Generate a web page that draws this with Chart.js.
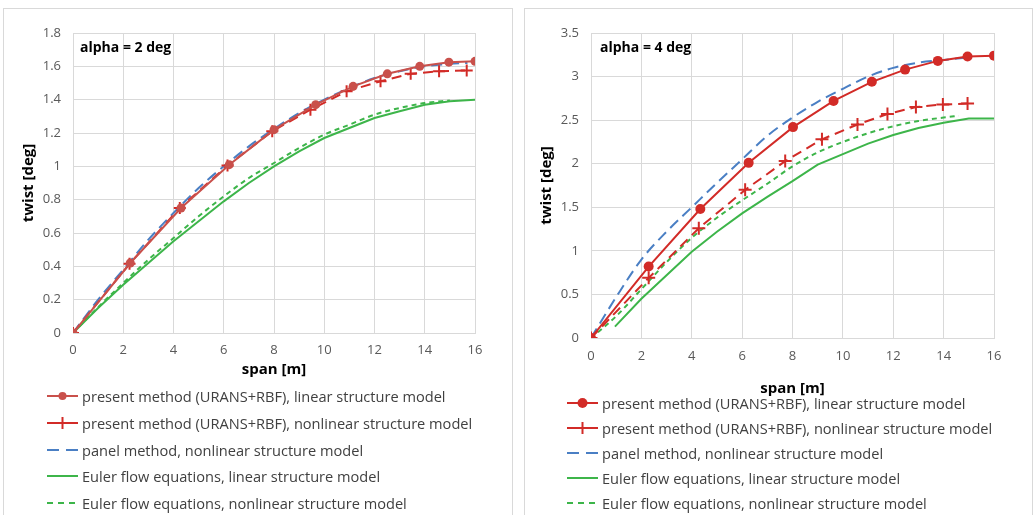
<!DOCTYPE html>
<html>
<head>
<meta charset="utf-8">
<script src="https://cdn.jsdelivr.net/npm/chart.js@4.4.0/dist/chart.umd.min.js"></script>
<style>
  body { margin: 0; background: #fff; font-family: "Open Sans", sans-serif; }
  .panel { position: absolute; top: 8px; height: 520px; border: 1px solid #d9d9d9; background: #fff; }
  #p1 { left: 3px; width: 508px; }
  #p2 { left: 524px; width: 507px; }
  .panel canvas { display: block; }
  .legend { position: absolute; font-size: 14.6px; color: #404040; }
  .row { display: flex; align-items: center; white-space: nowrap; }
  .row svg { margin-right: 4px; flex: none; }
</style>
</head>
<body>
<div class="panel" id="p1">
  <div style="width:508px;height:380px"><canvas id="c1"></canvas></div>
  <div class="legend" id="lg1" style="left:43px;top:374px"></div>
</div>
<div class="panel" id="p2">
  <div style="width:507px;height:392px"><canvas id="c2"></canvas></div>
  <div class="legend" id="lg2" style="left:42px;top:381px"></div>
</div>
<script>
// ---- data: alpha = 2 deg ----
const L_linX = [0, 2.28, 4.3, 6.22, 8.0, 9.66, 11.15, 12.51, 13.8, 14.96, 16];
const L_linY = [0, 0.42, 0.75, 1.01, 1.22, 1.37, 1.48, 1.555, 1.6, 1.625, 1.63];
const L_nlX = [0, 2.25, 4.25, 6.15, 7.93, 9.45, 10.89, 12.24, 13.44, 14.57, 15.67];
const L_nlY = [0, 0.415, 0.75, 1.005, 1.21, 1.34, 1.45, 1.51, 1.556, 1.57, 1.575];
const L_panX = [0, 1, 2, 3, 4, 5, 6, 7, 8, 9, 10, 11, 12, 13, 14, 15, 15.7];
const L_panY = [0, 0.2, 0.38, 0.56, 0.72, 0.87, 1.0, 1.12, 1.225, 1.32, 1.4, 1.47, 1.53, 1.57, 1.6, 1.615, 1.62];
const L_eulX = [0, 1, 2, 3, 4, 5, 6, 7, 8, 9, 10, 11, 12, 13, 14, 15, 16];
const L_eulY = [0, 0.15, 0.29, 0.42, 0.55, 0.67, 0.79, 0.9, 1.0, 1.09, 1.17, 1.23, 1.29, 1.33, 1.37, 1.39, 1.4];
const L_eunX = [0, 1, 2, 3, 4, 5, 6, 7, 8, 9, 10, 11, 12, 13, 14, 15];
const L_eunY = [0, 0.155, 0.3, 0.44, 0.57, 0.7, 0.82, 0.93, 1.02, 1.11, 1.19, 1.25, 1.31, 1.35, 1.38, 1.395];

// ---- data: alpha = 4 deg ----
const R_linX = [0, 2.29, 4.34, 6.26, 8.02, 9.63, 11.15, 12.47, 13.77, 14.95, 16];
const R_linY = [0, 0.82, 1.48, 2.01, 2.42, 2.72, 2.94, 3.08, 3.18, 3.23, 3.24];
const R_nlX = [0, 2.29, 4.28, 6.12, 7.71, 9.17, 10.58, 11.77, 12.9, 13.97, 14.95];
const R_nlY = [0, 0.69, 1.26, 1.70, 2.03, 2.28, 2.45, 2.57, 2.65, 2.68, 2.69];
const R_panX = [0, 1, 2, 3, 4, 5, 6, 7, 8, 9, 10, 11, 12, 13, 14, 15];
const R_panY = [0, 0.47, 0.9, 1.22, 1.5, 1.78, 2.05, 2.32, 2.53, 2.71, 2.86, 3.0, 3.1, 3.16, 3.19, 3.22];
const R_eulX = [0.95, 2, 3, 4, 5, 6, 7, 8, 9, 10, 11, 12, 13, 14, 15, 16];
const R_eulY = [0.13, 0.45, 0.72, 0.99, 1.22, 1.43, 1.62, 1.8, 1.99, 2.11, 2.23, 2.33, 2.41, 2.47, 2.52, 2.52];
const R_eunX = [0, 1, 2, 3, 4, 5, 6, 7, 8, 9, 10, 11, 12, 13, 14, 14.6];
const R_eunY = [0, 0.25, 0.56, 0.87, 1.15, 1.38, 1.58, 1.77, 1.97, 2.13, 2.25, 2.35, 2.43, 2.49, 2.53, 2.55];

const seriesNames = [
  'present method (URANS+RBF), linear structure model',
  'present method (URANS+RBF), nonlinear structure model',
  'panel method, nonlinear structure model',
  'Euler flow equations, linear structure model',
  'Euler flow equations, nonlinear structure model'
];

const RED_L = '#c9504b', RED = '#d22b27', BLUE = '#4a7fc4', GREEN = '#3db54a';

Chart.defaults.font.family = '"Open Sans", sans-serif';
Chart.defaults.animation = false;

function pts(xs, ys) { return xs.map((x, i) => ({ x: x, y: ys[i] })); }

// bold label in the top-left of the plot
const alphaLabel = {
  id: 'alphaLabel',
  afterDraw(chart, args, opts) {
    const { ctx, chartArea } = chart;
    ctx.save();
    ctx.font = 'bold 14px "Open Sans"';
    ctx.fillStyle = '#000';
    ctx.textBaseline = 'middle';
    ctx.fillText(opts.text, chartArea.left + opts.dx, chartArea.top + opts.dy);
    ctx.restore();
  }
};

function makeChart(id, d, o) {
  const datasets = [
    { data: pts(d.linX, d.linY), borderColor: o.red1, backgroundColor: o.red1, borderWidth: 2,
      pointStyle: 'circle', pointRadius: o.circR, pointBorderWidth: 0 },
    { data: pts(d.nlX, d.nlY), borderColor: o.red2, backgroundColor: o.red2, borderWidth: 2,
      borderDash: [10, 6], pointStyle: 'cross', pointRadius: o.crossR, pointBorderWidth: 2 },
    { data: pts(d.panX, d.panY), borderColor: BLUE, borderWidth: 2, borderDash: [11, 6], pointRadius: 0,
      cubicInterpolationMode: 'monotone' },
    { data: pts(d.eulX, d.eulY), borderColor: GREEN, borderWidth: 2, pointRadius: 0 },
    { data: pts(d.eunX, d.eunY), borderColor: GREEN, borderWidth: 2, borderDash: [5, 4], pointRadius: 0,
      cubicInterpolationMode: 'monotone' }
  ];
  datasets.forEach(ds => { ds.showLine = true; ds.fill = false; });
  return new Chart(document.getElementById(id), {
    type: 'scatter',
    data: { datasets: datasets },
    plugins: [alphaLabel],
    options: {
      responsive: true,
      maintainAspectRatio: false,
      layout: { padding: { left: 0, top: o.top, right: o.right, bottom: 0 } },
      plugins: {
        legend: { display: false },
        tooltip: { enabled: false },
        alphaLabel: { text: o.label, dx: o.lx, dy: 15 }
      },
      scales: {
        x: {
          type: 'linear', min: 0, max: 16,
          ticks: { stepSize: 2, color: '#595959', font: { size: 13 }, padding: o.xtp, maxRotation: 0 },
          grid: { color: '#d9d9d9', drawTicks: false },
          border: { color: '#d9d9d9' },
          title: { display: true, text: 'span [m]', color: '#000', font: { size: 15, weight: 'bold' },
                   padding: { top: 0, bottom: o.xtb } },
          afterFit: s => { s.height = o.xh; }
        },
        y: {
          min: 0, max: o.ymax,
          ticks: { stepSize: o.ystep, color: '#595959', font: { size: 13 }, padding: 12,
                   callback: v => String(+v.toFixed(2)) },
          grid: { color: '#d9d9d9', drawTicks: false },
          border: { color: '#d9d9d9' },
          title: { display: true, text: 'twist [deg]', color: '#000', font: { size: 15, weight: 'bold' },
                   padding: { top: o.ytp, bottom: 0 } },
          afterFit: s => { s.width = o.yw; }
        }
      }
    }
  });
}

makeChart('c1',
  { linX: L_linX, linY: L_linY, nlX: L_nlX, nlY: L_nlY, panX: L_panX, panY: L_panY,
    eulX: L_eulX, eulY: L_eulY, eunX: L_eunX, eunY: L_eunY },
  { red1: RED_L, red2: RED, circR: 4.5, crossR: 6, label: 'alpha = 2 deg', lx: 7,
    top: 24, right: 37, yw: 69, xh: 56, xtp: 9, xtb: 10, ytp: 16, ymax: 1.8, ystep: 0.2 });

makeChart('c2',
  { linX: R_linX, linY: R_linY, nlX: R_nlX, nlY: R_nlY, panX: R_panX, panY: R_panY,
    eulX: R_eulX, eulY: R_eulY, eunX: R_eunX, eunY: R_eunY },
  { red1: RED, red2: RED, circR: 5, crossR: 6.5, label: 'alpha = 4 deg', lx: 9,
    top: 24, right: 38, yw: 66, xh: 63, xtp: 10, xtb: 3, ytp: 13, ymax: 3.5, ystep: 0.5 });

// legend samples (line + marker), html rows
function sample(kind, color, r) {
  let s = '<svg width="31" height="14">';
  if (kind === 'dash2') {
    s += `<line x1="0" y1="7" x2="12" y2="7" stroke="${color}" stroke-width="2"/>` +
         `<line x1="19" y1="7" x2="31" y2="7" stroke="${color}" stroke-width="2"/>`;
  } else if (kind === 'dash3') {
    s += `<line x1="0" y1="7" x2="31" y2="7" stroke="${color}" stroke-width="2" stroke-dasharray="6,5"/>`;
  } else {
    s += `<line x1="0" y1="7" x2="31" y2="7" stroke="${color}" stroke-width="2"/>`;
  }
  if (kind === 'circle') s += `<circle cx="15.5" cy="7" r="${r}" fill="${color}"/>`;
  if (kind === 'cross') s += `<line x1="15.5" y1="1" x2="15.5" y2="13" stroke="${color}" stroke-width="2"/>`;
  return s + '</svg>';
}

function renderLegend(container, red1, red2, circR, rowH) {
  const kinds = [['circle', red1], ['cross', red2], ['dash2', BLUE], ['solid', GREEN], ['dash3', GREEN]];
  container.innerHTML = seriesNames.map((name, i) => `
    <div class="row" style="height:${rowH}px">${sample(kinds[i][0], kinds[i][1], circR)}<span>${name}</span></div>
  `).join('');
}

renderLegend(document.getElementById('lg1'), RED_L, RED, 4, 26.7);
renderLegend(document.getElementById('lg2'), RED, RED, 5, 25);
</script>
</body>
</html>
